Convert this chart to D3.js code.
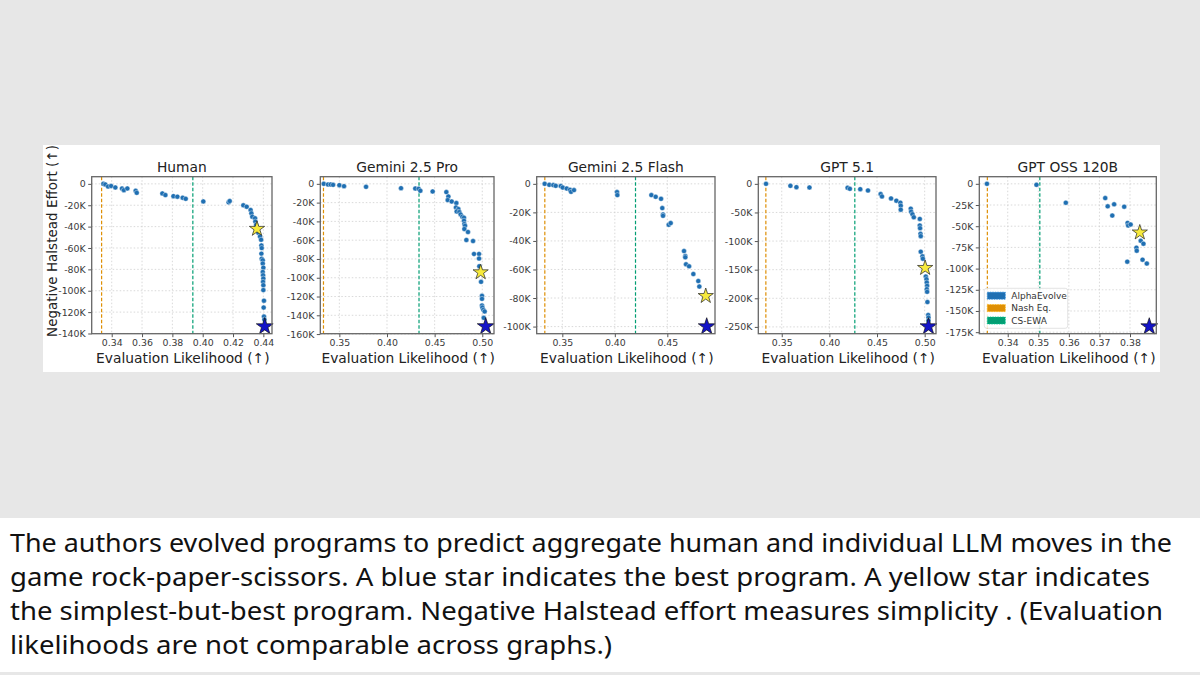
<!DOCTYPE html>
<html>
<head>
<meta charset="utf-8">
<script src="https://cdn.jsdelivr.net/npm/d3@7"></script>
<style>
  body { margin: 0; background: #e7e7e7; }
  svg { display: block; }
</style>
</head>
<body>
<svg id="chart" width="1200" height="675"></svg>
<script>
// ---- data (x = evaluation likelihood, y = negative Halstead effort in thousands) ----
const panelTitles = ["Human", "Gemini 2.5 Pro", "Gemini 2.5 Flash", "GPT 5.1", "GPT OSS 120B"];

const humanPts = [[0.3345,0],[0.3358,-0.6],[0.3376,-2.5],[0.3396,-2],[0.3424,-3.4],[0.3468,-4.3],[0.348,-5.9],
  [0.3503,-4.3],[0.3558,-6.5],[0.3565,-8.4],[0.3734,-9],[0.3754,-10.5],[0.3807,-11.5],[0.3833,-12],[0.3868,-13],
  [0.3888,-14],[0.4004,-16.4],[0.4171,-17.3],[0.4178,-16.1],[0.4268,-20.1],[0.429,-21.4],[0.4316,-24.5],
  [0.4321,-27.6],[0.4327,-30.7],[0.4345,-32.2],[0.4347,-35.3],[0.4352,-38.4],[0.4367,-45.8],[0.4378,-49.2],
  [0.4385,-52.3],[0.4387,-57.6],[0.4389,-60.1],[0.4387,-65.3],[0.4389,-70],[0.4396,-71.5],[0.4396,-74.6],
  [0.44,-78.4],[0.4396,-82.4],[0.4398,-85.5],[0.44,-88.6],[0.4398,-91.7],[0.44,-94.8],[0.44,-99.4],
  [0.4404,-109.3],[0.4402,-115.8],[0.4404,-124.2],[0.4407,-127]];

const geminiProPts = [[0.3336,0],[0.3381,-0.7],[0.3409,-0.7],[0.3434,-1.1],[0.35,-1.4],[0.3549,-2.5],[0.378,-3.2],
  [0.4147,-4.6],[0.4297,-5],[0.4332,-5.3],[0.435,-7.4],[0.4479,-8.1],[0.4623,-8.8],[0.4644,-13.5],[0.4637,-17.3],
  [0.4679,-18.8],[0.4728,-20.5],[0.4724,-25.1],[0.4749,-26.9],[0.4731,-29.4],[0.4759,-30.1],[0.4773,-32.6],
  [0.4791,-35],[0.4808,-36.1],[0.4808,-39.3],[0.4812,-42.8],[0.4819,-44.6],[0.4812,-48.1],[0.485,-51.3],
  [0.4833,-59.8],[0.4903,-60.9],[0.4913,-74.7],[0.4966,-74.7],[0.4966,-79.6],[0.4969,-87.8],[0.4987,-104.4],
  [0.4997,-119.3],[0.4997,-122.5],[0.4997,-129.6],[0.5001,-131.7],[0.5011,-134.2],[0.5025,-135.9],[0.5015,-142.7]];

const geminiFlashPts = [[0.3332,0],[0.3376,-0.7],[0.3414,-0.9],[0.3437,-1.4],[0.3485,-1.6],[0.3504,-2.6],
  [0.3542,-3.3],[0.3573,-4.2],[0.3583,-5.6],[0.3611,-4.4],[0.4021,-5.8],[0.4024,-7.9],[0.4348,-7.9],[0.4389,-9.1],
  [0.444,-10.5],[0.4452,-17],[0.4459,-21.4],[0.4459,-22.4],[0.4513,-28.7],[0.4532,-27.5],[0.4659,-47.1],
  [0.4671,-50.6],[0.4671,-51.5],[0.4678,-56.4],[0.4707,-57.8],[0.4748,-63.2],[0.4795,-68.1],[0.4805,-72]];

const gpt51Pts = [[0.3335,0],[0.3591,-3.5],[0.3654,-5.8],[0.3791,-6.4],[0.4191,-6.9],[0.4215,-8.7],[0.4324,-9.3],
  [0.4405,-11.6],[0.4538,-17.9],[0.4552,-22],[0.4647,-25.5],[0.4703,-29.5],[0.4745,-33],[0.4749,-38.2],
  [0.4749,-45.1],[0.4854,-43.4],[0.4858,-48.6],[0.4872,-53.2],[0.4886,-58.4],[0.4949,-61.3],[0.4949,-72.9],
  [0.4952,-77.5],[0.4956,-87.4],[0.4959,-91.4],[0.4959,-118.6],[0.4977,-126.7],[0.4981,-130.8],[0.5012,-162],
  [0.5019,-166.7],[0.5022,-172.5],[0.5026,-178.2],[0.5022,-184],[0.5026,-188.7],[0.5029,-206.6],[0.5037,-229.2],
  [0.504,-233.8],[0.504,-239]];

const gptOssPts = [[0.3332,0],[0.3494,-1.2],[0.359,-22.3],[0.3719,-16.8],[0.3727,-26.6],[0.3748,-24.2],
  [0.3742,-37.5],[0.3781,-27],[0.3792,-46.1],[0.3794,-49.2],[0.3802,-48],[0.3835,-67.2],[0.3844,-70.7],
  [0.3821,-75.4],[0.3822,-78.9],[0.3791,-91.8],[0.3841,-89.5],[0.3855,-94.1]];

const simplestBest = [[0.4358,-42.1],[0.4983,-94.2],[0.4866,-78.6],[0.5005,-147],[0.3832,-57.4]];
const bestProgram  = [[0.4409,-133.5],[0.5036,-151.9],[0.4875,-100],[0.504,-249.4],[0.3863,-168.4]];

const nashX = 1 / 3;
const csEwaX = [0.3935, 0.4336, 0.4197, 0.4267, 0.3505];

const xTicks = [
  [0.34, 0.36, 0.38, 0.40, 0.42, 0.44],
  [0.35, 0.40, 0.45, 0.50],
  [0.35, 0.40, 0.45],
  [0.35, 0.40, 0.45, 0.50],
  [0.34, 0.35, 0.36, 0.37, 0.38]
];
const yTicks = [
  [0, -20, -40, -60, -80, -100, -120, -140],
  [0, -20, -40, -60, -80, -100, -120, -140, -160],
  [0, -20, -40, -60, -80, -100],
  [0, -50, -100, -150, -200, -250],
  [0, -25, -50, -75, -100, -125, -150, -175]
];
const xDomains = [[0.3268, 0.4457], [0.3300, 0.5123], [0.3256, 0.4954], [0.3254, 0.5119], [0.3307, 0.3886]];
const yDomains = [[-140.2, 6.7], [-159.6, 7.6], [-105, 5], [-261.9, 12.5], [-176.8, 8.4]];

const legendItems = ["AlphaEvolve", "Nash Eq.", "CS-EWA"];
const captionLines = [
  "The authors evolved programs to predict aggregate human and individual LLM moves in the",
  "game rock-paper-scissors. A blue star indicates the best program. A yellow star indicates",
  "the simplest-but-best program. Negative Halstead effort measures simplicity . (Evaluation",
  "likelihoods are not comparable across graphs.)"
];

const allPts = [humanPts, geminiProPts, geminiFlashPts, gpt51Pts, gptOssPts];

// ---- look ----
const BLUE = "#1f6fb2", ORANGE = "#de8f05", GREEN = "#029e73";
const FONT = "DejaVu Sans, sans-serif";
const panelLeft = [91.7, 320.3, 536.7, 758.3, 979.3];
const panelRight = [272, 494, 715, 936, 1156.3];
const plotTop = 176.7, plotBottom = 333.7;

const svg = d3.select("#chart");
svg.append("rect").attr("width", 1200).attr("height", 675).attr("fill", "#e7e7e7");
svg.append("rect").attr("x", 43).attr("y", 145).attr("width", 1117).attr("height", 227).attr("fill", "#fff");

panelTitles.forEach((title, i) => {
  const x = d3.scaleLinear().domain(xDomains[i]).range([panelLeft[i], panelRight[i]]);
  const y = d3.scaleLinear().domain(yDomains[i]).range([plotBottom, plotTop]);
  const g = svg.append("g");

  // grid
  g.selectAll(".gx").data(xTicks[i]).enter().append("line")
    .attr("x1", d => x(d)).attr("x2", d => x(d)).attr("y1", plotTop).attr("y2", plotBottom)
    .attr("stroke", "#cfcfcf").attr("stroke-width", 0.8).attr("stroke-dasharray", "1.5,2");
  g.selectAll(".gy").data(yTicks[i]).enter().append("line")
    .attr("x1", panelLeft[i]).attr("x2", panelRight[i]).attr("y1", d => y(d)).attr("y2", d => y(d))
    .attr("stroke", "#cfcfcf").attr("stroke-width", 0.8).attr("stroke-dasharray", "1.5,2");

  // reference lines
  g.append("line").attr("x1", x(nashX)).attr("x2", x(nashX)).attr("y1", plotTop).attr("y2", plotBottom)
    .attr("stroke", ORANGE).attr("stroke-width", 1.2).attr("stroke-dasharray", "3.5,2");
  g.append("line").attr("x1", x(csEwaX[i])).attr("x2", x(csEwaX[i])).attr("y1", plotTop).attr("y2", plotBottom)
    .attr("stroke", GREEN).attr("stroke-width", 1.2).attr("stroke-dasharray", "3.5,2");

  // points
  g.selectAll(".pt").data(allPts[i]).enter().append("circle")
    .attr("cx", d => x(d[0])).attr("cy", d => y(d[1])).attr("r", 2.5)
    .attr("fill", BLUE).attr("stroke", "#fff").attr("stroke-width", 0.4);

  // stars
  const star = d3.symbol().type(d3.symbolStar);
  g.append("path").attr("d", star.size(72)())
    .attr("transform", `translate(${x(simplestBest[i][0])},${y(simplestBest[i][1])})`)
    .attr("fill", "#f7ea3c").attr("stroke", "#222").attr("stroke-width", 0.7);
  g.append("path").attr("d", star.size(88)())
    .attr("transform", `translate(${x(bestProgram[i][0])},${y(bestProgram[i][1])})`)
    .attr("fill", "#1414c8").attr("stroke", "#111").attr("stroke-width", 0.7);

  // axes
  const ax = g.append("g").attr("transform", `translate(0,${plotBottom})`)
    .call(d3.axisBottom(x).tickValues(xTicks[i]).tickFormat(d3.format(".2f")).tickSize(3.5).tickPadding(2.5));
  const ay = g.append("g").attr("transform", `translate(${panelLeft[i]},0)`)
    .call(d3.axisLeft(y).tickValues(yTicks[i]).tickFormat(d => d === 0 ? "0" : d + "K").tickSize(3.5).tickPadding(2.5));
  [ax, ay].forEach(a => {
    a.select(".domain").remove();
    a.selectAll(".tick line").attr("stroke", "#555");
    a.selectAll(".tick text").attr("fill", "#3a3a3a").style("font-family", FONT).style("font-size", "9.4px");
  });

  // frame
  g.append("rect").attr("x", panelLeft[i]).attr("y", plotTop)
    .attr("width", panelRight[i] - panelLeft[i]).attr("height", plotBottom - plotTop)
    .attr("fill", "none").attr("stroke", "#666").attr("stroke-width", 1.3);

  const cx = (panelLeft[i] + panelRight[i]) / 2;
  g.append("text").attr("x", cx).attr("y", 171.5).attr("text-anchor", "middle")
    .style("font-family", FONT).style("font-size", "13.8px").attr("fill", "#222").text(title);
  g.append("text").attr("x", cx + 1).attr("y", 363).attr("text-anchor", "middle")
    .style("font-family", FONT).style("font-size", "13.8px").attr("fill", "#222").text("Evaluation Likelihood (↑)");
});

// y label
svg.append("text").attr("transform", "translate(57,241) rotate(-90)").attr("text-anchor", "middle")
  .style("font-family", FONT).style("font-size", "13.5px").attr("fill", "#222").text("Negative Halstead Effort (↑)");

// legend (last panel)
const leg = svg.append("g").attr("transform", "translate(984.3,288.3)");
leg.append("rect").attr("width", 83.4).attr("height", 40).attr("rx", 2.5)
  .attr("fill", "#fff").attr("fill-opacity", 0.85).attr("stroke", "#dcdcdc").attr("stroke-width", 0.8);
leg.selectAll(".li").data(legendItems).enter().append("g")
  .attr("transform", (d, k) => `translate(3,${7.4 + k * 12.4})`)
  .each(function (d, k) {
    const c = [BLUE, ORANGE, GREEN][k];
    d3.select(this).append("rect").attr("x", 0).attr("y", -3.5).attr("width", 18).attr("height", 7)
      .attr("fill", c).attr("stroke", d3.color(c).brighter(0.6)).attr("stroke-width", 0.8).attr("stroke-dasharray", "1.5,1");
    d3.select(this).append("text").attr("x", 24).attr("y", 3.2)
      .style("font-family", FONT).style("font-size", "9px").attr("fill", "#333").text(d);
  });

// caption
svg.append("rect").attr("x", 0).attr("y", 518).attr("width", 1200).attr("height", 154).attr("fill", "#fff");
const captionWidths = [1162, 1140, 1153, 602];
svg.selectAll(".cap").data(captionLines).enter().append("text")
  .attr("x", 10).attr("y", (d, k) => 551.5 + k * 34.3)
  .attr("textLength", (d, k) => captionWidths[k]).attr("lengthAdjust", "spacingAndGlyphs")
  .style("font-family", "Noto Sans, sans-serif").style("font-size", "26px").attr("fill", "#111")
  .text(d => d);
</script>
</body>
</html>
